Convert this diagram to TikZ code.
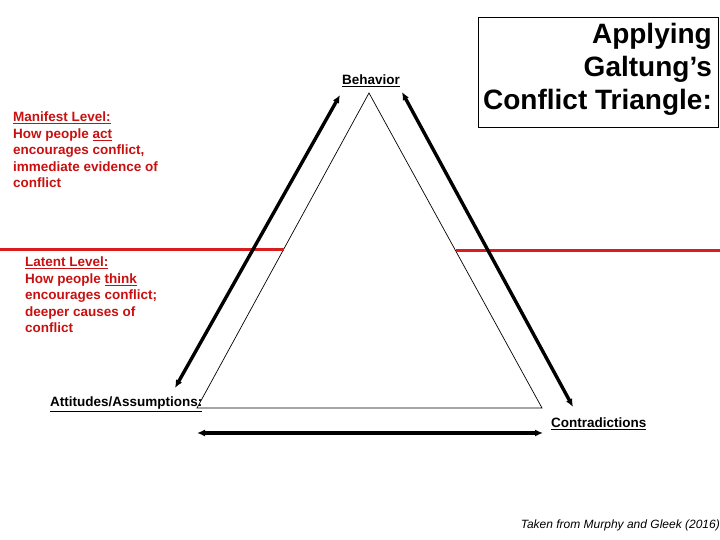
\documentclass[tikz,border=0pt]{standalone}
\usepackage{fontspec}
\setmainfont{Liberation Sans}
\usetikzlibrary{arrows.meta}
\definecolor{levelred}{RGB}{200,16,16}
\definecolor{linered}{RGB}{218,28,28}

\begin{document}
\begin{tikzpicture}[x=1pt,y=1pt]
\path[use as bounding box] (0,0) rectangle (720,540);
\tikzset{
  leveltext/.style={anchor=north west,inner sep=0pt,align=left,text=levelred,
    font=\bfseries\fontsize{13.5}{16.4}\selectfont},
  cornerlabel/.style={inner sep=0pt,font=\bfseries\fontsize{13.5}{16}\selectfont},
  bigarrow/.style={line width=3.4pt,{Latex[length=8pt,width=7pt]}-{Latex[length=8pt,width=7pt]}},
  levelline/.style={linered,line width=3pt}
}
% triangle corners
\coordinate (top) at (369,447);
\coordinate (left) at (197,132);
\coordinate (right) at (542,132);
\draw[line width=0.7pt] (left) -- (top) -- (right) -- cycle;
% level lines
\coordinate (m1) at (0,290);
\coordinate (m2) at (284,290);
\coordinate (m3) at (456,289);
\coordinate (m4) at (720,289);
\draw[levelline] (m1) -- (m2);
\draw[levelline] (m3) -- (m4);
% arrows
\coordinate (la1) at (175,152);
\coordinate (la2) at (340,445);
\coordinate (ra1) at (402,448);
\coordinate (ra2) at (573,133);
\coordinate (ba1) at (197,107);
\coordinate (ba2) at (543,107);
\draw[bigarrow] (la1) -- (la2);
\draw[bigarrow] (ra1) -- (ra2);
\draw[bigarrow] (ba1) -- (ba2);
% labels
\node[cornerlabel,anchor=base] (behavior) at (371,455) {\underline{Behavior}};
\node[cornerlabel,anchor=base west] (attitudes) at (50,133) {\underline{Attitudes/Assumptions:}};
\node[cornerlabel,anchor=base west] (contra) at (551,112) {\underline{Contradictions}};
\node[leveltext] (manifest) at (13,428) {\underline{Manifest Level:}\\How people \underline{act}\\encourages conflict,\\immediate evidence of\\conflict};
\node[leveltext] (latent) at (25,283) {\underline{Latent Level:}\\How people \underline{think}\\encourages conflict;\\deeper causes of\\conflict};
% title
\draw[line width=0.8pt] (478,413) rectangle (718,523);
\node[anchor=north east,inner sep=0pt,align=right,font=\bfseries\fontsize{28}{33}\selectfont] (title) at (712,517) {Applying\\Galtung’s\\Conflict Triangle:};
\node[anchor=base east,inner sep=0pt,font=\itshape\fontsize{12}{14}\selectfont] (source) at (720,11) {Taken from Murphy and Gleek (2016)};
\end{tikzpicture}
\end{document}
